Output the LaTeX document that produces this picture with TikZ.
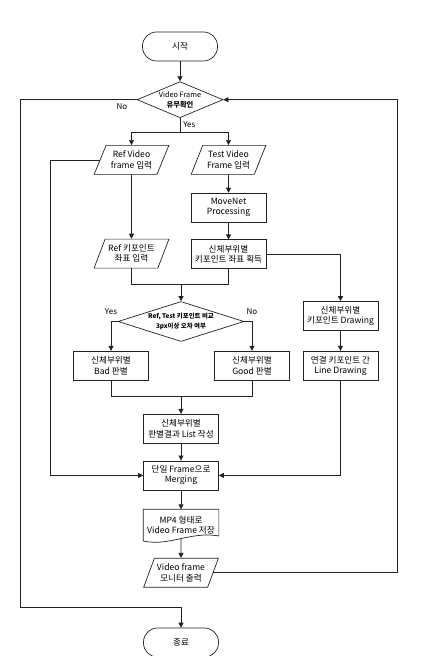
\documentclass[tikz,border=0pt]{standalone}
\usepackage{fontspec}
\setmainfont{Noto Sans CJK KR}
\usepackage{tikz}
\usetikzlibrary{arrows.meta,positioning,shapes.geometric}
\definecolor{tinta}{HTML}{222222}

\begin{document}
\begin{tikzpicture}[x=1pt,y=1pt,line width=0.7pt,draw=tinta,
  base/.style={draw=tinta,align=center,font=\fontsize{8.6}{10.2}\selectfont,inner sep=1pt},
  box/.style={base,rectangle,minimum width=75pt,minimum height=29pt},
  term/.style={base,rectangle,rounded corners=14pt,minimum width=75pt,minimum height=29pt},
  inout/.style={base,trapezium,trapezium left angle=63,trapezium right angle=117,trapezium stretches=true,minimum width=75pt,minimum height=29pt},
  cond/.style={base,diamond,inner sep=0pt},
  docbox/.style={base,draw=none,rectangle,minimum width=75pt,minimum height=31pt,anchor=north},
  lbl/.style={font=\fontsize{8}{9.6}\selectfont,inner sep=1pt},
  arr/.style={-{Triangle[length=5pt,width=5pt]}}]
\useasboundingbox (0,0) rectangle (426,656);
\node[term] (start) at (180,609.5) {시작};
\node[cond,minimum width=86pt,minimum height=36pt,aspect=2.4,below=20pt of start] (vf) {\fontsize{7.3}{8.8}\selectfont Video Frame\\\fontsize{7.3}{8.8}\selectfont\bfseries 유무확인};
\node[inout,below=27pt of vf,xshift=-48.5pt] (refin) {Ref Video\\frame 입력};
\node[inout,below=27pt of vf,xshift=48.5pt] (testin) {Test Video\\Frame 입력};
\node[box,below=18pt of testin] (movenet) {MoveNet\\Processing};
\node[box,below=17pt of movenet] (getkp) {신체부위별\\키포인트 좌표 획득};
\node[inout,below=64pt of refin] (refkp) {Ref 키포인트\\좌표 입력};
\node[cond,minimum width=126pt,minimum height=40pt,aspect=3.15,below=32pt of getkp,xshift=-47.5pt] (cmp) {\fontsize{6.4}{8}\selectfont\bfseries Ref, Test 키포인트 비교\\\fontsize{6.4}{8}\selectfont\bfseries 3px이상 오차 여부};
\node[box,below=9pt of cmp,xshift=-70pt] (bad) {신체부위별\\Bad 판별};
\node[box,below=9pt of cmp,xshift=71pt] (good) {신체부위별\\Good 판별};
\node[box,below=32pt of getkp,xshift=112pt] (draw1) {신체부위별\\키포인트 Drawing};
\node[box,below=20pt of draw1] (draw2) {연결 키포인트 간\\Line Drawing};
\node[box,below=72pt of cmp] (list) {신체부위별\\판별결과 List 작성};
\node[box,below=17pt of list] (merge) {단일 Frame으로\\Merging};
\node[docbox,below=19pt of merge] (mp4) {MP4 형태로\\Video Frame 저장};
\node[inout,below=17pt of mp4] (out) {Video frame\\모니터 출력};
\node[term,below=40pt of out] (end) {종료};
% document shape outline
\draw ([yshift=5pt]mp4.south east) -- (mp4.north east) -- (mp4.north west) -- (mp4.south west)
  .. controls ([xshift=25pt,yshift=-6pt]mp4.south west) and ([xshift=-28pt,yshift=10pt]mp4.south east) .. ([yshift=5pt]mp4.south east);
% main flow
\draw[arr] (start) -- (vf);
\draw (vf.south) -- ++(0,-14) coordinate (yesjn);
\draw[arr] (yesjn) -| (refin);
\draw[arr] (yesjn) -| (testin);
\node[lbl,anchor=west] (lbyes) at ([xshift=2pt,yshift=-7pt]vf.south) {Yes};
\node[lbl,anchor=north east] (lbno) at ([xshift=-8pt,yshift=-3pt]vf.west) {No};
\draw[arr] (testin) -- (movenet);
\draw[arr] (movenet) -- (getkp);
\draw[arr] (refin) -- (refkp);
\coordinate (kpjn) at ([yshift=17pt]cmp.north);
\draw (refkp.south) |- (kpjn) -| (getkp.south);
\draw[arr] (kpjn) -- (cmp);
\draw[arr] (getkp.east) -| (draw1);
\draw[arr] (draw1) -- (draw2);
\draw[arr] (draw2.south) |- (merge.east);
\draw[arr] (cmp.west) -| (bad);
\draw[arr] (cmp.east) -| (good);
\node[lbl,anchor=south] (lbyes2) at ([yshift=6pt]bad.north |- cmp.west) {Yes};
\node[lbl,anchor=south] (lbno2) at ([yshift=6pt]good.north |- cmp.east) {No};
\coordinate (bgjn) at ([yshift=18pt]list.north);
\draw (bad.south) |- (bgjn) -| (good.south);
\draw[arr] (bgjn) -- (list);
\draw[arr] (list) -- (merge);
\draw[arr] (merge) -- (mp4.north);
\draw[arr] ([yshift=2pt]mp4.south) -- (out);
\draw[arr] (refin.west) -- ++(-49,0) |- (merge.west);
% loops
\draw[arr] (out.east) -- ++(184,0) |- (vf.east);
\coordinate (nojn) at ([yshift=20pt]end.north);
\draw[arr] (vf.west) -- ++(-116,0) |- (nojn) -- (end);
\end{tikzpicture}
\end{document}
